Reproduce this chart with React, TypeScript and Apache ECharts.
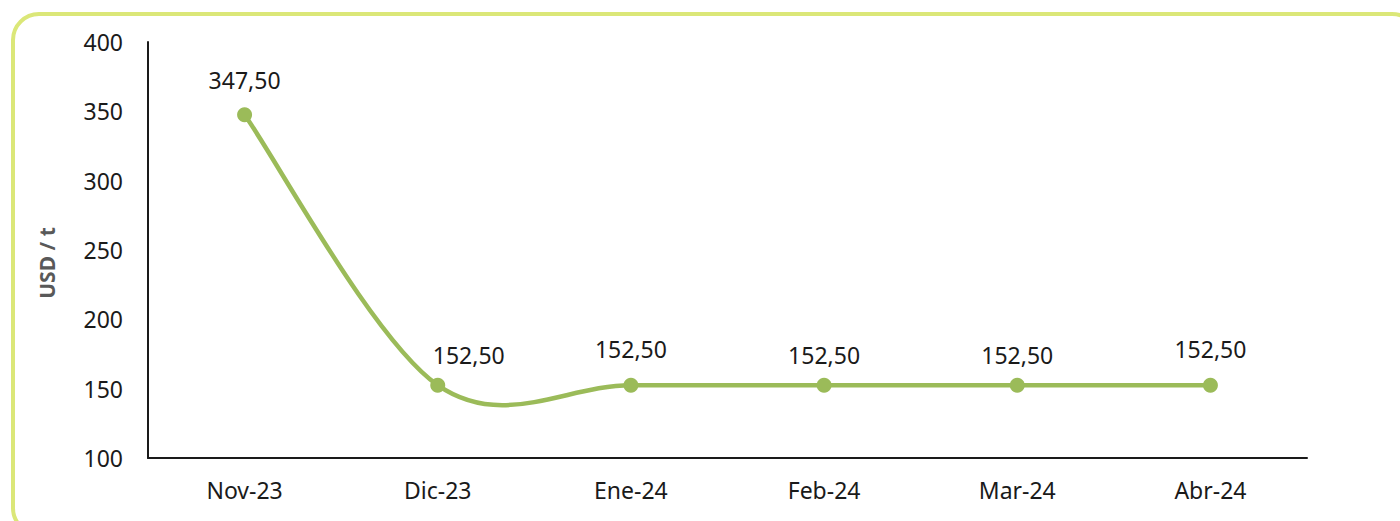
import React, { useEffect, useRef } from "react";
import * as echarts from "echarts";

const categories = ["Nov-23", "Dic-23", "Ene-24", "Feb-24", "Mar-24", "Abr-24"];
const values = [347.5, 152.5, 152.5, 152.5, 152.5, 152.5];
const labelOffsets = [[0, -5], [31, 0], [0, -6], [0, 0], [0, 0], [0, -6]];
const yMin = 100;
const yMax = 400;
const yInterval = 50;
const yAxisName = "USD / t";

const GREEN = "#9bbb59";

export default function App() {
  const ref = useRef<HTMLDivElement>(null);
  useEffect(() => {
    document.body.style.margin = "0";
    const chart = echarts.init(ref.current!, null, { renderer: "svg" });
    const font = "'Noto Sans', sans-serif";
    chart.setOption({
      animation: false,
      backgroundColor: "#ffffff",
      graphic: [
        {
          type: "rect",
          shape: { x: 13, y: 14, width: 1405, height: 520, r: 26 },
          style: { fill: "none", stroke: "#dbe778", lineWidth: 4 },
          z: -1,
        },
        {
          type: "text",
          x: 47,
          y: 263,
          rotation: Math.PI / 2,
          style: {
            text: yAxisName,
            fill: "#595959",
            font: `bold 21px ${font}`,
            align: "center",
            verticalAlign: "middle",
          },
        },
      ],
      grid: { left: 148, right: 93, top: 42, bottom: 63 },
      xAxis: {
        type: "category",
        data: categories,
        boundaryGap: true,
        axisLine: { lineStyle: { color: "#1a1a1a", width: 2 } },
        axisTick: { show: false },
        axisLabel: { color: "#1a1a1a", fontSize: 23, fontFamily: font, margin: 20 },
      },
      yAxis: {
        type: "value",
        min: yMin,
        max: yMax,
        interval: yInterval,
        splitLine: { show: false },
        axisLine: { show: true, lineStyle: { color: "#1a1a1a", width: 2 } },
        axisTick: { show: false },
        axisLabel: { color: "#1a1a1a", fontSize: 23, fontFamily: font, margin: 25 },
      },
      series: [
        {
          type: "custom",
          data: [[0, values[0]]],
          silent: true,
          z: 2,
          renderItem: (_params: any, api: any) => {
            const pts = values.map((v, i) => api.coord([i, v]));
            const n = pts.length;
            let d = `M${pts[0][0]},${pts[0][1]}`;
            for (let i = 0; i < n - 1; i++) {
              const p0 = pts[Math.max(i - 1, 0)];
              const p1 = pts[i];
              const p2 = pts[i + 1];
              const p3 = pts[Math.min(i + 2, n - 1)];
              const c1x = p1[0] + (p2[0] - p0[0]) / 6;
              const c1y = p1[1] + (p2[1] - p0[1]) / 6;
              const c2x = p2[0] - (p3[0] - p1[0]) / 6;
              const c2y = p2[1] - (p3[1] - p1[1]) / 6;
              d += ` C${c1x},${c1y} ${c2x},${c2y} ${p2[0]},${p2[1]}`;
            }
            return {
              type: "path",
              shape: { pathData: d },
              style: { fill: "none", stroke: GREEN, lineWidth: 4.5, lineCap: "round", lineJoin: "round" },
            };
          },
        },
        {
          type: "line",
          z: 3,
          data: values.map((v, i) => ({
            value: v,
            label: { offset: labelOffsets[i] },
          })),
          symbol: "circle",
          symbolSize: 15,
          itemStyle: { color: GREEN },
          lineStyle: { width: 0, opacity: 0 },
          label: {
            show: true,
            position: "top",
            distance: 11,
            color: "#1a1a1a",
            fontSize: 23,
            fontFamily: font,
            formatter: (p: any) => Number(p.value).toFixed(2).replace(".", ","),
          },
        },
      ],
    });
    return () => chart.dispose();
  }, []);
  return <div ref={ref} style={{ width: 1400, height: 521 }} />;
}
